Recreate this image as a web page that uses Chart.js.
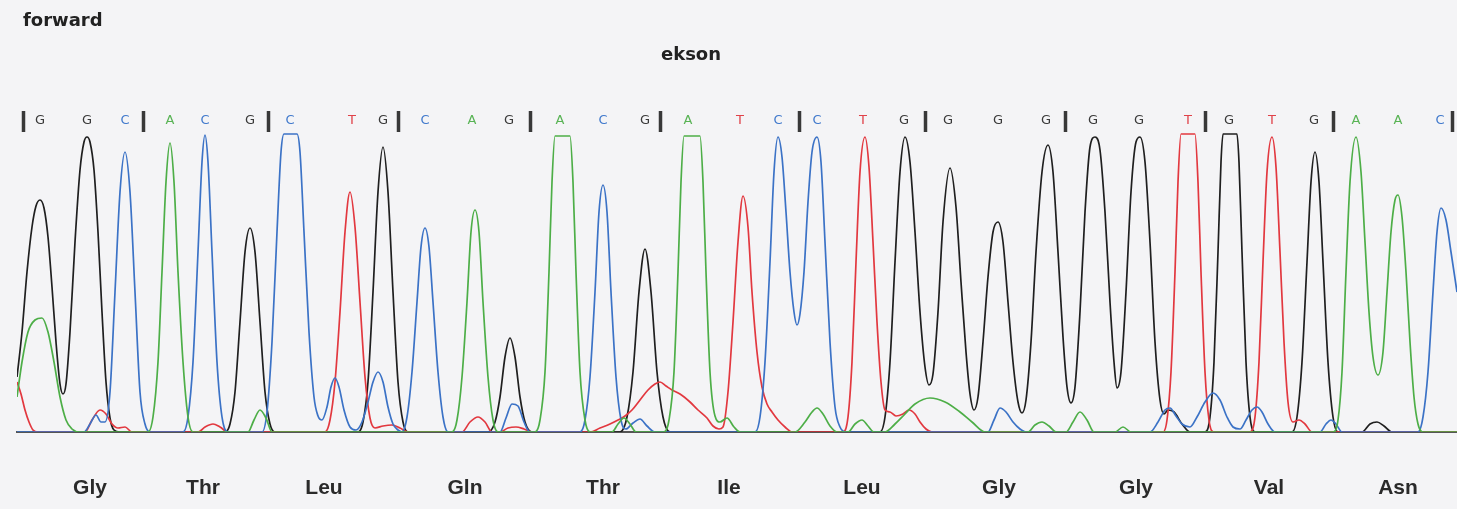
<!DOCTYPE html>
<html>
<head>
<meta charset="utf-8">
<script src="https://cdn.jsdelivr.net/npm/chart.js@4.4.0/dist/chart.umd.min.js"></script>
<style>
  html, body { margin: 0; padding: 0; background: #f4f4f6; }
  #wrap { width: 1457px; height: 509px; position: relative; }
</style>
</head>
<body>
<div id="wrap"><canvas id="c"></canvas></div>
<script>
// ---- Data ----
const headerText = 'forward';
const regionText = 'ekson';

const bases   = ['G','G','C','A','C','G','C','T','G','C','A','G','A','C','G','A','T','C','C','T','G','G','G','G','G','G','T','G','T','G','A','A','C'];
const basePos = [40,87,125,170,205,250,290,352,383,425,472,509,560,603,645,688,740,778,817,863,904,948,998,1046,1093,1139,1188,1229,1272,1314,1356,1398,1440];
const codonSeparators = [23,143,268,398,530,660,800,925,1065,1205,1333,1452];

const aminoAcids = ['Gly','Thr','Leu','Gln','Thr','Ile','Leu','Gly','Gly','Val','Asn'];
const aaPos      = [90,203,324,465,603,729,862,999,1136,1269,1398];

// Traces: [scan position, signal]
const traceG = [
[17,55],[22,100],[27,160],[32,205],[36,226],[40,232],[44,224],[48,195],[52,145],[56,90],[60,48],[63,38],[66,48],[70,100],[75,190],[80,262],[84,290],[87,295],[90,290],[94,262],[98,200],[102,120],[106,50],[110,14],[114,2],[120,0],
[225,0],[230,8],[235,40],[240,110],[245,180],[250,204],[255,180],[260,110],[265,40],[270,8],[275,0],
[358,0],[363,10],[368,50],[373,140],[378,240],[383,285],[388,240],[393,140],[398,50],[403,10],[408,0],
[488,0],[495,10],[500,35],[505,75],[510,94],[515,75],[520,35],[525,10],[532,0],
[620,0],[627,15],[633,60],[639,140],[645,183],[651,140],[657,60],[663,15],[670,0],
[880,0],[885,15],[890,70],[895,170],[900,260],[905,295],[910,270],[915,200],[920,120],[925,65],[929,47],[933,58],[938,120],[943,210],[950,264],[956,225],[961,150],[966,80],[970,38],[974,22],[978,35],[983,90],[988,155],[993,200],[998,210],[1003,190],[1008,130],[1013,70],[1018,30],[1022,19],[1026,32],[1031,90],[1036,180],[1042,260],[1048,287],[1053,260],[1058,180],[1063,95],[1067,45],[1071,29],[1075,45],[1080,120],[1085,220],[1090,285],[1095,295],[1100,282],[1105,220],[1110,130],[1114,70],[1117,44],[1121,60],[1126,140],[1131,240],[1136,290],[1140,295],[1145,270],[1150,190],[1155,90],[1160,32],[1164,18],[1168,22],[1174,20],[1182,8],[1190,0],
[1205,0],[1210,15],[1214,70],[1218,180],[1221,270],[1223,298],[1237,298],[1239,270],[1242,180],[1246,70],[1250,15],[1255,0],
[1292,0],[1297,15],[1302,70],[1307,170],[1311,250],[1315,280],[1319,250],[1323,170],[1328,70],[1333,15],[1338,0],
[1362,0],[1370,8],[1377,10],[1384,6],[1392,0],[1457,0]
];

const traceC = [
[17,0],[84,0],[90,8],[96,17],[101,10],[105,10],[110,40],[115,140],[120,240],[125,280],[130,240],[135,140],[140,40],[145,8],[150,0],
[183,0],[188,15],[193,70],[198,180],[202,270],[205,297],[208,270],[212,180],[217,70],[222,15],[228,0],
[262,0],[267,20],[272,90],[277,200],[281,280],[284,298],[297,298],[300,280],[304,200],[309,100],[314,35],[318,16],[322,12],[327,25],[331,45],[335,54],[339,45],[344,22],[350,5],[356,2],[362,10],[368,30],[373,50],[378,60],[383,50],[388,25],[393,8],[398,2],
[402,0],[407,15],[412,60],[417,130],[421,185],[425,204],[429,185],[433,130],[438,60],[443,15],[448,0],
[500,0],[506,14],[512,28],[518,26],[524,10],[530,0],
[580,0],[585,12],[590,55],[595,140],[599,220],[603,247],[607,220],[611,140],[616,55],[621,12],[626,3],[633,9],[640,13],[647,6],[655,0],
[755,0],[760,15],[765,70],[770,170],[774,260],[778,295],[782,275],[786,220],[790,160],[794,120],[797,107],[800,118],[804,160],[808,230],[812,280],[817,295],[821,270],[825,190],[830,90],[835,25],[840,5],[846,0],
[988,0],[994,12],[1000,24],[1006,20],[1013,10],[1020,3],[1026,0],
[1150,0],[1158,10],[1165,22],[1170,24],[1176,16],[1182,8],[1190,5],[1197,15],[1205,30],[1213,39],[1220,32],[1227,15],[1233,5],[1240,3],[1246,12],[1252,22],[1257,25],[1262,20],[1268,8],[1275,0],
[1320,0],[1326,8],[1331,12],[1336,8],[1342,0],
[1418,0],[1423,15],[1428,60],[1433,140],[1437,200],[1441,224],[1446,212],[1451,180],[1457,140]
];

const traceA = [
[17,35],[22,70],[28,100],[35,112],[42,114],[48,100],[54,70],[60,35],[66,12],[72,3],[80,0],
[148,0],[153,15],[158,70],[162,160],[166,250],[170,289],[174,250],[178,160],[183,70],[188,15],[193,0],
[248,0],[254,12],[260,22],[266,14],[272,0],
[452,0],[457,12],[462,55],[467,130],[471,200],[475,222],[479,200],[483,130],[488,55],[493,12],[498,0],
[535,0],[540,12],[545,60],[549,160],[552,250],[555,296],[570,296],[573,250],[576,160],[580,60],[585,12],[590,0],
[612,0],[618,8],[624,14],[630,8],[636,0],
[664,0],[669,12],[674,60],[678,160],[681,250],[684,296],[700,296],[703,250],[706,160],[710,60],[715,16],[720,10],[727,14],[734,5],[740,0],
[795,0],[805,10],[812,20],[817,24],[823,18],[830,6],[837,0],
[848,0],[855,8],[862,12],[868,6],[874,0],
[885,0],[895,8],[905,18],[915,28],[930,34],[945,30],[960,20],[972,10],[985,0],
[1028,0],[1035,7],[1042,10],[1049,6],[1056,0],
[1066,0],[1073,10],[1080,20],[1087,12],[1094,0],
[1115,0],[1123,5],[1131,0],
[1333,0],[1338,12],[1342,60],[1346,160],[1350,250],[1356,295],[1361,260],[1365,190],[1369,120],[1373,75],[1378,57],[1383,80],[1387,140],[1391,200],[1395,232],[1398,237],[1402,215],[1406,160],[1410,90],[1414,35],[1418,8],[1423,0],[1457,0]
];

const traceT = [
[17,50],[21,38],[25,22],[29,10],[33,2],[38,0],
[85,0],[92,12],[100,22],[106,18],[112,8],[118,4],[125,5],[132,0],
[198,0],[205,5],[213,8],[220,5],[228,0],
[325,0],[330,12],[335,50],[340,120],[345,200],[350,240],[355,205],[360,130],[365,55],[370,14],[375,4],[383,6],[392,7],[400,4],[408,0],
[462,0],[470,10],[478,15],[485,10],[492,0],
[500,0],[508,4],[516,5],[524,3],[532,0],
[590,0],[600,4],[610,8],[618,12],[625,16],[632,22],[640,32],[648,42],[655,48],[660,50],[666,46],[672,42],[680,38],[690,30],[698,22],[707,14],[713,6],[719,3],[723,5],[728,40],[733,110],[738,190],[743,236],[748,205],[752,140],[757,80],[762,45],[767,28],[772,20],[778,12],[785,5],[792,0],
[843,0],[848,15],[852,70],[856,170],[860,260],[865,295],[869,265],[873,190],[877,110],[881,50],[885,22],[890,20],[896,16],[903,18],[909,22],[915,18],[920,10],[926,3],[932,0],
[1163,0],[1167,12],[1171,60],[1175,160],[1178,250],[1181,298],[1195,298],[1198,250],[1201,160],[1205,60],[1209,12],[1214,0],
[1250,0],[1255,15],[1259,70],[1263,170],[1267,260],[1272,295],[1276,265],[1280,180],[1284,90],[1288,30],[1293,10],[1299,12],[1305,8],[1312,0],[1457,0]
];

// ---- Styling ----
const traceColors  = { G: '#1f1f1f', C: '#3b72c6', A: '#4dae47', T: '#e2383f' };
const letterColors = { G: '#3a3a3a', C: '#4079cc', A: '#58b354', T: '#e04249' };

const toXY = arr => arr.map(([x, y]) => ({ x, y }));

const topTickValues = [...basePos, ...codonSeparators].sort((a, b) => a - b);
const baseAt = new Map(basePos.map((p, i) => [p, bases[i]]));
const sepSet = new Set(codonSeparators);
const aaAt = new Map(aaPos.map((p, i) => [p, aminoAcids[i]]));
const isSep = c => c && c.tick && sepSet.has(c.tick.value);

const textPlugin = {
  id: 'headerTexts',
  afterDraw(chart) {
    const ctx = chart.ctx;
    ctx.save();
    ctx.fillStyle = '#222';
    ctx.font = 'bold 18px "DejaVu Sans"';
    ctx.textBaseline = 'alphabetic';
    ctx.textAlign = 'left';
    ctx.fillText(headerText, 23, 26);
    ctx.textAlign = 'center';
    ctx.fillText(regionText, 691, 60);
    ctx.restore();
  }
};

const mk = (label, arr) => ({
  label,
  data: toXY(arr),
  borderColor: traceColors[label],
  borderWidth: 1.7,
  pointRadius: 0,
  fill: false,
  cubicInterpolationMode: 'monotone',
  xAxisID: 'x',
  yAxisID: 'y'
});

new Chart(document.getElementById('c'), {
  type: 'line',
  data: {
    datasets: [mk('A', traceA), mk('C', traceC), mk('T', traceT), mk('G', traceG)]
  },
  plugins: [textPlugin],
  options: {
    responsive: true,
    maintainAspectRatio: false,
    animation: false,
    layout: { autoPadding: false, padding: { left: 17, right: 0, top: 0, bottom: 0 } },
    plugins: { legend: { display: false }, tooltip: { enabled: false }, title: { display: false } },
    scales: {
      x: {
        type: 'linear', position: 'bottom', min: 17, max: 1457,
        afterFit: s => { s.height = 77; s.paddingLeft = 0; s.paddingRight = 0; },
        afterBuildTicks: s => { s.ticks = aaPos.map(v => ({ value: v })); },
        grid: { display: false, drawTicks: false },
        border: { display: true, color: '#555', width: 2 },
        ticks: {
          autoSkip: false, maxRotation: 0, minRotation: 0, padding: 44,
          color: '#2a2a2a',
          font: { family: 'Liberation Sans', size: 21, weight: 'bold' },
          callback: v => aaAt.get(v) || ''
        }
      },
      xTop: {
        type: 'linear', position: 'top', min: 17, max: 1457,
        afterFit: s => { s.height = 132; s.paddingLeft = 0; s.paddingRight = 0; },
        afterBuildTicks: s => { s.ticks = topTickValues.map(v => ({ value: v })); },
        grid: {
          display: true, drawOnChartArea: false, drawTicks: true, tickLength: 21,
          tickWidth: c => isSep(c) ? 3.5 : 0,
          tickColor: c => isSep(c) ? '#383838' : 'rgba(0,0,0,0)'
        },
        border: { display: false },
        ticks: {
          autoSkip: false, maxRotation: 0, minRotation: 0, padding: -17,
          color: c => (c.tick && baseAt.has(c.tick.value)) ? letterColors[baseAt.get(c.tick.value)] : '#333',
          font: { family: 'DejaVu Sans', size: 13 },
          callback: v => baseAt.get(v) || ''
        }
      },
      y: { display: false, min: 0, max: 300 }
    }
  }
});
</script>
</body>
</html>
